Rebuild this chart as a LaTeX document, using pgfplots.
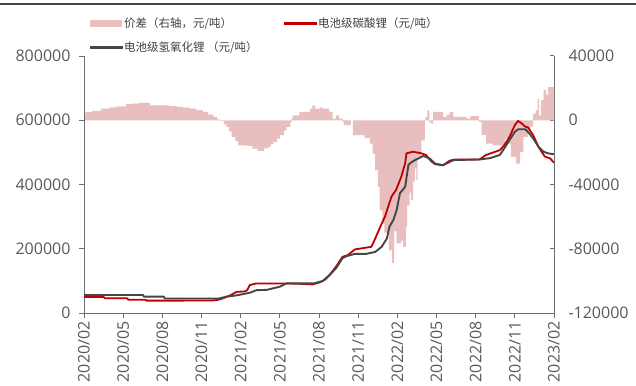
\documentclass[border=0pt]{standalone}
\usepackage{pgfplots}
\pgfplotsset{compat=1.18}
\usepackage{fontspec}
\setmainfont{Open Sans}
\newfontfamily\cjk{Noto Sans CJK SC}
\definecolor{pinkc}{RGB}{232,190,190}
\definecolor{redc}{RGB}{192,0,0}
\definecolor{grayc}{RGB}{70,70,70}
\definecolor{axisc}{RGB}{110,110,110}
\definecolor{labc}{RGB}{89,89,89}
\definecolor{legc}{RGB}{64,64,64}
\pgfplotsset{
  mylegend/.style={legend cell align=left,
    legend style={draw=none, fill=none, anchor=north west,
    font=\cjk\fontsize{11.5bp}{12bp}\selectfont, text=legc,
    row sep=9bp, inner sep=0pt, nodes={inner sep=1.5bp}}},
}
\begin{document}
\begin{tikzpicture}[x=1bp,y=1bp]
\useasboundingbox (0,0) rectangle (636,385);
\draw[line width=1.4bp, color=grayc] (0,381) -- (636,381);
% ---------------- spread (right axis) ----------------
\begin{axis}[
  at={(84bp,72bp)}, anchor=south west,
  width=470bp, height=257bp, scale only axis,
  xmin=0, xmax=36, ymin=-120000, ymax=40000,
  scaled y ticks=false,
  axis x line=none, axis y line*=right,
  axis line style={draw=axisc, line width=1bp},
  ytick={-120000,-80000,-40000,0,40000},
  yticklabels={-120000,-80000,-40000,0,40000},
  tick align=inside, major tick length=4bp,
  tick style={draw=axisc, line width=1bp},
  yticklabel style={font=\fontsize{16bp}{16bp}\selectfont, text=labc, xshift=11bp},
  mylegend, legend columns=1,
  legend style={at={(axis description cs:0.0128,1.155)}},
]
\addplot[fill=pinkc, draw=none, const plot,
  legend image code/.code={\fill[pinkc] (0bp,-3.5bp) rectangle (32bp,3.5bp);}] table {
x y
0 3000
0.1 5000
0.6 5800
1.3 7300
2.0 8000
2.5 8700
3.2 10000
3.6 10400
4.2 10800
5.05 9300
6.5 8800
7.1 8300
7.6 7800
8.1 7300
8.6 6300
9.1 5200
9.5 3500
9.9 2100
10.2 500
10.4 -400
10.7 -2500
10.9 -4100
11.1 -7000
11.3 -10400
11.6 -13000
11.8 -15600
12.5 -16000
12.9 -17600
13.3 -19100
13.8 -17500
14.1 -16600
14.3 -15000
14.5 -13500
14.8 -11500
15.0 -9300
15.3 -6500
15.5 -4100
15.8 -1000
15.9 1500
16.0 3100
16.5 5200
17.3 7300
17.5 9300
17.7 7300
18.1 8000
18.3 7300
18.8 5200
19.05 1000
19.3 3100
19.55 1000
19.8 -1000
19.9 -3100
20.45 0
20.6 -9300
21.5 -11200
21.9 -14500
22.1 -20700
22.3 -31000
22.5 -41500
22.65 -56000
22.85 -64300
23.0 -70000
23.35 -81000
23.6 -89000
23.75 -69000
23.95 -76600
24.3 -75000
24.45 -78800
24.65 -66400
24.75 -53000
24.95 -45000
25.05 -49800
25.2 -38000
25.35 -30000
25.45 -37400
25.55 -22800
25.85 -12500
26.1 0
26.15 2000
26.3 6200
26.45 -1500
26.6 -2100
26.75 5200
27.3 5200
27.5 2100
27.8 3500
28.0 5200
28.3 2100
29.3 1000
29.6 2500
30.25 -1000
30.45 -9300
30.8 -14500
31.3 -15600
32.25 -11400
32.45 -14500
32.7 -22800
33.1 -27000
33.4 -19700
33.65 -10400
34.0 -6500
34.2 -4000
34.4 4200
34.6 6200
34.75 13500
34.85 3000
35.0 12500
35.2 18700
35.4 16000
35.55 20700
36.0 20700
} \closedcycle;
\addlegendentry{价差（右轴，元/吨）}
\addlegendimage{legend image code/.code={\fill[grayc] (0bp,-0.95bp) rectangle (32bp,0.95bp);}}
\addlegendentry{电池级氢氧化锂 （元/吨）}
\end{axis}
% ---------------- prices (left axis) ----------------
\begin{axis}[
  at={(84bp,72bp)}, anchor=south west,
  width=470bp, height=257bp, scale only axis,
  xmin=0, xmax=36, ymin=0, ymax=800000,
  scaled y ticks=false,
  axis x line*=bottom, axis y line*=left,
  axis line style={draw=axisc, line width=1bp},
  xtick={0,3,...,36},
  xticklabels={2020/02,2020/05,2020/08,2020/11,2021/02,2021/05,2021/08,2021/11,2022/02,2022/05,2022/08,2022/11,2023/02},
  ytick={0,200000,400000,600000,800000},
  yticklabels={0,200000,400000,600000,800000},
  tick align=outside, major tick length=5bp,
  tick style={draw=axisc, line width=1bp},
  yticklabel style={font=\fontsize{16bp}{16bp}\selectfont, text=labc, xshift=-5bp},
  xticklabel style={font=\fontsize{16bp}{16bp}\selectfont, text=labc, rotate=90, anchor=east},
  mylegend, legend columns=1,
  legend style={at={(axis description cs:0.4255,1.155)}},
]
\addlegendimage{legend image code/.code={\fill[redc] (0bp,-0.9bp) rectangle (32bp,0.9bp);}}
\addlegendentry{电池级碳酸锂（元/吨）}
\addplot[redc, line width=1.8bp, forget plot] table {
x y
0 50000
1.5 50000
1.6 46000
3.3 46000
3.4 41000
4.7 41000
4.8 38500
7.0 38500
9.8 39000
10.2 40500
10.6 45000
11.2 55000
11.7 66000
12.3 67000
12.5 71000
12.7 87000
13.2 92000
15.6 92000
16.5 91000
17.5 89000
18.1 96000
18.5 105000
18.8 118000
19.3 144000
19.8 175000
20.2 180000
20.75 198000
22.0 206000
22.2 222000
22.7 269000
23.05 300000
23.3 331000
23.55 362000
23.9 383000
24.3 424000
24.6 466000
24.7 497000
25.2 502000
25.85 497000
26.2 492000
26.6 472000
26.9 463000
27.5 460000
28.0 474000
28.4 478000
30.3 478000
30.8 492000
31.85 507000
32.2 523000
32.6 549000
33.0 585000
33.25 598000
33.5 591000
33.8 580000
34.0 578000
34.4 554000
34.8 518000
35.05 502000
35.3 487000
35.7 481000
36.0 468000
};
\addplot[grayc, line width=1.9bp, forget plot] table {
x y
0 56000
4.5 56000
4.6 51000
6.1 51000
6.2 45000
10.3 45000
10.9 50700
11.7 55000
12.7 63000
13.2 71000
14.0 72000
15.0 82000
15.5 92000
17.6 92000
18.3 100000
18.8 118000
19.3 139000
19.8 171000
20.1 177000
20.75 184000
21.6 184000
22.3 190000
22.8 206000
23.2 232000
23.4 269000
23.7 290000
23.95 321000
24.2 373000
24.6 393000
24.85 461000
25.1 470000
25.35 476000
26.0 489000
26.5 480000
26.9 465000
27.5 460000
28.0 470000
28.3 476000
30.3 478000
31.1 482000
31.85 492000
32.2 513000
32.6 539000
33.0 564000
33.25 572000
33.8 572000
34.0 564000
34.4 544000
34.8 518000
35.2 502000
35.55 497000
36.0 494000
};
\end{axis}
\end{tikzpicture}
\end{document}
